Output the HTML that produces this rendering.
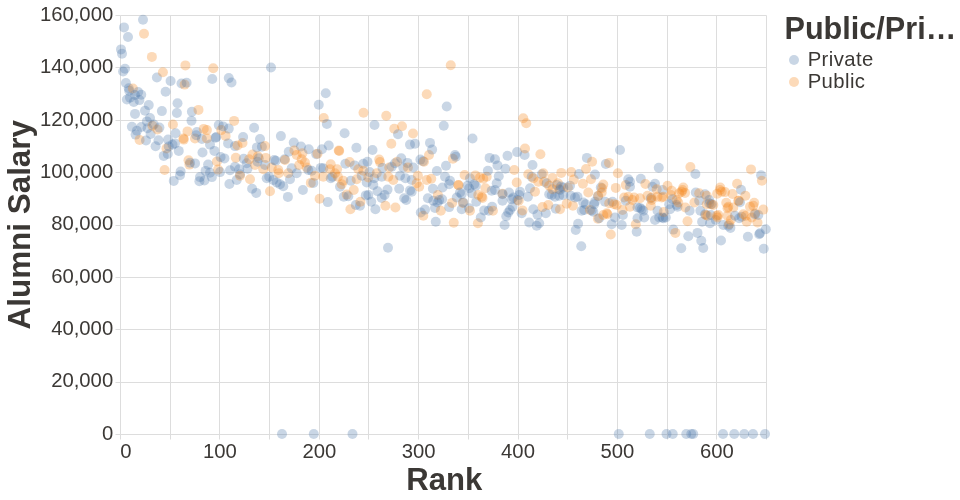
<!DOCTYPE html>
<html><head><meta charset="utf-8"><style>
html,body{margin:0;padding:0;background:#fff;}
svg{display:block;font-family:"Liberation Sans",sans-serif;will-change:transform;}
</style></head><body>
<svg width="960" height="500" viewBox="0 0 960 500">
<rect width="960" height="500" fill="#fff"/>
<g stroke="#ddd" stroke-width="1"><line x1="120.5" y1="15.5" x2="120.5" y2="434.5"/><line x1="170.5" y1="15.5" x2="170.5" y2="434.5"/><line x1="219.5" y1="15.5" x2="219.5" y2="434.5"/><line x1="269.5" y1="15.5" x2="269.5" y2="434.5"/><line x1="319.5" y1="15.5" x2="319.5" y2="434.5"/><line x1="368.5" y1="15.5" x2="368.5" y2="434.5"/><line x1="418.5" y1="15.5" x2="418.5" y2="434.5"/><line x1="468.5" y1="15.5" x2="468.5" y2="434.5"/><line x1="518.5" y1="15.5" x2="518.5" y2="434.5"/><line x1="567.5" y1="15.5" x2="567.5" y2="434.5"/><line x1="617.5" y1="15.5" x2="617.5" y2="434.5"/><line x1="667.5" y1="15.5" x2="667.5" y2="434.5"/><line x1="716.5" y1="15.5" x2="716.5" y2="434.5"/><line x1="766.5" y1="15.5" x2="766.5" y2="434.5"/><line x1="120.5" y1="434.5" x2="766.5" y2="434.5"/><line x1="120.5" y1="382.5" x2="766.5" y2="382.5"/><line x1="120.5" y1="329.5" x2="766.5" y2="329.5"/><line x1="120.5" y1="277.5" x2="766.5" y2="277.5"/><line x1="120.5" y1="225.5" x2="766.5" y2="225.5"/><line x1="120.5" y1="172.5" x2="766.5" y2="172.5"/><line x1="120.5" y1="120.5" x2="766.5" y2="120.5"/><line x1="120.5" y1="67.5" x2="766.5" y2="67.5"/><line x1="120.5" y1="15.5" x2="766.5" y2="15.5"/></g>
<g stroke="#ddd" stroke-width="1"><line x1="120.5" y1="434.5" x2="120.5" y2="439.5"/><line x1="170.5" y1="434.5" x2="170.5" y2="439.5"/><line x1="219.5" y1="434.5" x2="219.5" y2="439.5"/><line x1="269.5" y1="434.5" x2="269.5" y2="439.5"/><line x1="319.5" y1="434.5" x2="319.5" y2="439.5"/><line x1="368.5" y1="434.5" x2="368.5" y2="439.5"/><line x1="418.5" y1="434.5" x2="418.5" y2="439.5"/><line x1="468.5" y1="434.5" x2="468.5" y2="439.5"/><line x1="518.5" y1="434.5" x2="518.5" y2="439.5"/><line x1="567.5" y1="434.5" x2="567.5" y2="439.5"/><line x1="617.5" y1="434.5" x2="617.5" y2="439.5"/><line x1="667.5" y1="434.5" x2="667.5" y2="439.5"/><line x1="716.5" y1="434.5" x2="716.5" y2="439.5"/><line x1="766.5" y1="434.5" x2="766.5" y2="439.5"/><line x1="115.5" y1="434.5" x2="120.5" y2="434.5"/><line x1="115.5" y1="382.5" x2="120.5" y2="382.5"/><line x1="115.5" y1="329.5" x2="120.5" y2="329.5"/><line x1="115.5" y1="277.5" x2="120.5" y2="277.5"/><line x1="115.5" y1="225.5" x2="120.5" y2="225.5"/><line x1="115.5" y1="172.5" x2="120.5" y2="172.5"/><line x1="115.5" y1="120.5" x2="120.5" y2="120.5"/><line x1="115.5" y1="67.5" x2="120.5" y2="67.5"/><line x1="115.5" y1="15.5" x2="120.5" y2="15.5"/></g>
<g fill="#3b3835" font-size="20.3px"><text x="120.2" y="458" text-anchor="start">0</text><text x="219.9" y="458" text-anchor="middle">100</text><text x="319.3" y="458" text-anchor="middle">200</text><text x="418.7" y="458" text-anchor="middle">300</text><text x="518.0" y="458" text-anchor="middle">400</text><text x="617.4" y="458" text-anchor="middle">500</text><text x="716.8" y="458" text-anchor="middle">600</text><text x="113.2" y="439.8" text-anchor="end">0</text><text x="113.2" y="387.4" text-anchor="end">20,000</text><text x="113.2" y="335.1" text-anchor="end">40,000</text><text x="113.2" y="282.7" text-anchor="end">60,000</text><text x="113.2" y="230.3" text-anchor="end">80,000</text><text x="113.2" y="177.9" text-anchor="end">100,000</text><text x="113.2" y="125.5" text-anchor="end">120,000</text><text x="113.2" y="73.2" text-anchor="end">140,000</text><text x="113.2" y="20.8" text-anchor="end">160,000</text></g>
<text x="444.2" y="489.8" text-anchor="middle" font-size="31px" font-weight="bold" fill="#3b3835" textLength="76" lengthAdjust="spacingAndGlyphs">Rank</text>
<text transform="translate(30.3,224.7) rotate(-90)" text-anchor="middle" font-size="31px" font-weight="bold" fill="#3b3835" textLength="209.5" lengthAdjust="spacingAndGlyphs">Alumni Salary</text>
<text x="784.5" y="38.9" font-size="31px" font-weight="bold" fill="#3b3835" textLength="171.8" lengthAdjust="spacingAndGlyphs">Public/Pri…</text>
<circle cx="794" cy="60" r="5" fill="#4c78a8" fill-opacity="0.3"/><circle cx="794" cy="82" r="5" fill="#f58518" fill-opacity="0.3"/>
<g fill="#3b3835" font-size="20.3px" letter-spacing="0.4"><text x="807.7" y="66">Private</text><text x="807.7" y="87.6">Public</text></g>
<g fill-opacity="0.3"><circle cx="121" cy="49.4" r="5" fill="#4c78a8"/><circle cx="122" cy="53.75" r="5" fill="#4c78a8"/><circle cx="123.1" cy="71.5" r="5" fill="#4c78a8"/><circle cx="124" cy="27.4" r="5" fill="#4c78a8"/><circle cx="125" cy="68.75" r="5" fill="#4c78a8"/><circle cx="125.9" cy="83" r="5" fill="#4c78a8"/><circle cx="126.9" cy="99.5" r="5" fill="#4c78a8"/><circle cx="128" cy="37" r="5" fill="#4c78a8"/><circle cx="128.75" cy="88.25" r="5" fill="#4c78a8"/><circle cx="129.2" cy="90.8" r="5" fill="#4c78a8"/><circle cx="130" cy="97.6" r="5" fill="#4c78a8"/><circle cx="131.9" cy="126.75" r="5" fill="#4c78a8"/><circle cx="132.9" cy="88.5" r="5" fill="#f58518"/><circle cx="133.75" cy="102" r="5" fill="#4c78a8"/><circle cx="135" cy="113.9" r="5" fill="#4c78a8"/><circle cx="135" cy="95" r="5" fill="#4c78a8"/><circle cx="135.6" cy="134.6" r="5" fill="#4c78a8"/><circle cx="136.9" cy="130.75" r="5" fill="#4c78a8"/><circle cx="138.1" cy="92" r="5" fill="#4c78a8"/><circle cx="139.4" cy="100.1" r="5" fill="#4c78a8"/><circle cx="139.6" cy="139.9" r="5" fill="#f58518"/><circle cx="141.25" cy="94.75" r="5" fill="#4c78a8"/><circle cx="141.25" cy="127" r="5" fill="#4c78a8"/><circle cx="143" cy="19.7" r="5" fill="#4c78a8"/><circle cx="144" cy="33.8" r="5" fill="#f58518"/><circle cx="145" cy="110.75" r="5" fill="#4c78a8"/><circle cx="146" cy="140.5" r="5" fill="#4c78a8"/><circle cx="146.9" cy="121.4" r="5" fill="#4c78a8"/><circle cx="147.5" cy="128.25" r="5" fill="#4c78a8"/><circle cx="148.75" cy="105.1" r="5" fill="#4c78a8"/><circle cx="150" cy="118" r="5" fill="#4c78a8"/><circle cx="150.6" cy="134" r="5" fill="#4c78a8"/><circle cx="151.9" cy="56.9" r="5" fill="#f58518"/><circle cx="152.5" cy="125.75" r="5" fill="#f58518"/><circle cx="153.75" cy="124.5" r="5" fill="#4c78a8"/><circle cx="155.6" cy="146.25" r="5" fill="#4c78a8"/><circle cx="156.9" cy="77.5" r="5" fill="#4c78a8"/><circle cx="157.5" cy="129.5" r="5" fill="#f58518"/><circle cx="158.5" cy="140.25" r="5" fill="#4c78a8"/><circle cx="159.4" cy="127.6" r="5" fill="#4c78a8"/><circle cx="161.9" cy="111.1" r="5" fill="#4c78a8"/><circle cx="162.9" cy="72.25" r="5" fill="#f58518"/><circle cx="163.75" cy="155.9" r="5" fill="#4c78a8"/><circle cx="164.6" cy="170" r="5" fill="#f58518"/><circle cx="165.6" cy="91.75" r="5" fill="#4c78a8"/><circle cx="166.5" cy="148.4" r="5" fill="#f58518"/><circle cx="167.75" cy="154" r="5" fill="#4c78a8"/><circle cx="168.1" cy="139.6" r="5" fill="#4c78a8"/><circle cx="168.75" cy="146.5" r="5" fill="#4c78a8"/><circle cx="170.6" cy="81" r="5" fill="#4c78a8"/><circle cx="172.5" cy="144.6" r="5" fill="#4c78a8"/><circle cx="172.9" cy="124.5" r="5" fill="#f58518"/><circle cx="173.75" cy="180.9" r="5" fill="#4c78a8"/><circle cx="175" cy="143.4" r="5" fill="#4c78a8"/><circle cx="175.6" cy="133.25" r="5" fill="#4c78a8"/><circle cx="176.9" cy="113" r="5" fill="#4c78a8"/><circle cx="177.5" cy="103.25" r="5" fill="#4c78a8"/><circle cx="178.75" cy="150.9" r="5" fill="#4c78a8"/><circle cx="180" cy="175.25" r="5" fill="#4c78a8"/><circle cx="180.6" cy="171.5" r="5" fill="#4c78a8"/><circle cx="181.5" cy="83.5" r="5" fill="#4c78a8"/><circle cx="183.4" cy="138.4" r="5" fill="#f58518"/><circle cx="183.75" cy="139.6" r="5" fill="#f58518"/><circle cx="184.6" cy="84.6" r="5" fill="#f58518"/><circle cx="185.4" cy="65.4" r="5" fill="#f58518"/><circle cx="186.6" cy="82.75" r="5" fill="#4c78a8"/><circle cx="187.5" cy="131.4" r="5" fill="#f58518"/><circle cx="188.5" cy="160.25" r="5" fill="#f58518"/><circle cx="189.4" cy="164.6" r="5" fill="#f58518"/><circle cx="190" cy="162.75" r="5" fill="#4c78a8"/><circle cx="191.5" cy="120.75" r="5" fill="#4c78a8"/><circle cx="191.9" cy="111.75" r="5" fill="#4c78a8"/><circle cx="195" cy="138.4" r="5" fill="#f58518"/><circle cx="195" cy="163.4" r="5" fill="#4c78a8"/><circle cx="196.25" cy="135.25" r="5" fill="#4c78a8"/><circle cx="196.9" cy="132" r="5" fill="#4c78a8"/><circle cx="198.5" cy="109.9" r="5" fill="#f58518"/><circle cx="199.4" cy="181.25" r="5" fill="#4c78a8"/><circle cx="200" cy="177.1" r="5" fill="#4c78a8"/><circle cx="201.9" cy="139" r="5" fill="#4c78a8"/><circle cx="202.5" cy="152.5" r="5" fill="#4c78a8"/><circle cx="203.75" cy="128.9" r="5" fill="#f58518"/><circle cx="204.4" cy="180.5" r="5" fill="#4c78a8"/><circle cx="205.6" cy="170.9" r="5" fill="#4c78a8"/><circle cx="206.9" cy="130.1" r="5" fill="#f58518"/><circle cx="206.9" cy="138.4" r="5" fill="#f58518"/><circle cx="208.1" cy="164.6" r="5" fill="#4c78a8"/><circle cx="210" cy="144.6" r="5" fill="#4c78a8"/><circle cx="210" cy="172.75" r="5" fill="#4c78a8"/><circle cx="211.9" cy="177.1" r="5" fill="#4c78a8"/><circle cx="212.25" cy="79" r="5" fill="#4c78a8"/><circle cx="213.25" cy="68.25" r="5" fill="#f58518"/><circle cx="214.4" cy="150.9" r="5" fill="#4c78a8"/><circle cx="215.6" cy="137.75" r="5" fill="#4c78a8"/><circle cx="216.25" cy="137" r="5" fill="#4c78a8"/><circle cx="216.9" cy="161.5" r="5" fill="#f58518"/><circle cx="218.1" cy="169.6" r="5" fill="#f58518"/><circle cx="218.75" cy="125.1" r="5" fill="#4c78a8"/><circle cx="220" cy="172.1" r="5" fill="#4c78a8"/><circle cx="220.6" cy="157.1" r="5" fill="#4c78a8"/><circle cx="221.25" cy="130.1" r="5" fill="#f58518"/><circle cx="223.1" cy="126.4" r="5" fill="#4c78a8"/><circle cx="224.4" cy="158.4" r="5" fill="#4c78a8"/><circle cx="225.6" cy="135.9" r="5" fill="#f58518"/><circle cx="228.1" cy="143.4" r="5" fill="#4c78a8"/><circle cx="228.75" cy="78.1" r="5" fill="#4c78a8"/><circle cx="228.75" cy="128.6" r="5" fill="#4c78a8"/><circle cx="229.4" cy="184" r="5" fill="#4c78a8"/><circle cx="230" cy="170.25" r="5" fill="#4c78a8"/><circle cx="231.5" cy="82.5" r="5" fill="#4c78a8"/><circle cx="234.1" cy="120.9" r="5" fill="#f58518"/><circle cx="235" cy="146.1" r="5" fill="#4c78a8"/><circle cx="235" cy="166.7" r="5" fill="#4c78a8"/><circle cx="235.8" cy="157.7" r="5" fill="#f58518"/><circle cx="236.7" cy="180" r="5" fill="#4c78a8"/><circle cx="237.5" cy="145.5" r="5" fill="#f58518"/><circle cx="239.2" cy="169.2" r="5" fill="#4c78a8"/><circle cx="240" cy="174.2" r="5" fill="#4c78a8"/><circle cx="240" cy="175.8" r="5" fill="#f58518"/><circle cx="242.5" cy="143" r="5" fill="#f58518"/><circle cx="243.1" cy="137.1" r="5" fill="#4c78a8"/><circle cx="243.75" cy="158.75" r="5" fill="#4c78a8"/><circle cx="246.7" cy="163.3" r="5" fill="#4c78a8"/><circle cx="247.5" cy="168.75" r="5" fill="#4c78a8"/><circle cx="249.2" cy="159.3" r="5" fill="#f58518"/><circle cx="250" cy="179.2" r="5" fill="#f58518"/><circle cx="252.1" cy="188.75" r="5" fill="#4c78a8"/><circle cx="252.5" cy="154.6" r="5" fill="#f58518"/><circle cx="254.1" cy="127.75" r="5" fill="#4c78a8"/><circle cx="255" cy="165" r="5" fill="#f58518"/><circle cx="256.25" cy="192.9" r="5" fill="#4c78a8"/><circle cx="256.9" cy="147.4" r="5" fill="#4c78a8"/><circle cx="257.5" cy="161.7" r="5" fill="#4c78a8"/><circle cx="257.9" cy="156.25" r="5" fill="#f58518"/><circle cx="258.75" cy="158.3" r="5" fill="#4c78a8"/><circle cx="260" cy="139" r="5" fill="#4c78a8"/><circle cx="261.9" cy="146.75" r="5" fill="#4c78a8"/><circle cx="263.3" cy="169.2" r="5" fill="#f58518"/><circle cx="265" cy="146.1" r="5" fill="#f58518"/><circle cx="265" cy="165" r="5" fill="#4c78a8"/><circle cx="265.8" cy="157.9" r="5" fill="#f58518"/><circle cx="266.7" cy="178.3" r="5" fill="#4c78a8"/><circle cx="269.2" cy="176.7" r="5" fill="#4c78a8"/><circle cx="270" cy="191.25" r="5" fill="#f58518"/><circle cx="271" cy="67.5" r="5" fill="#4c78a8"/><circle cx="271.7" cy="167.5" r="5" fill="#f58518"/><circle cx="273.3" cy="180" r="5" fill="#4c78a8"/><circle cx="274.2" cy="160" r="5" fill="#4c78a8"/><circle cx="275.8" cy="160.8" r="5" fill="#4c78a8"/><circle cx="276.7" cy="182.5" r="5" fill="#4c78a8"/><circle cx="278.3" cy="170" r="5" fill="#f58518"/><circle cx="278.75" cy="173.3" r="5" fill="#f58518"/><circle cx="280" cy="184.2" r="5" fill="#4c78a8"/><circle cx="280.9" cy="136.1" r="5" fill="#4c78a8"/><circle cx="282" cy="434" r="5" fill="#4c78a8"/><circle cx="283.3" cy="186.25" r="5" fill="#4c78a8"/><circle cx="284.6" cy="159.2" r="5" fill="#4c78a8"/><circle cx="285" cy="160" r="5" fill="#f58518"/><circle cx="287.9" cy="196.9" r="5" fill="#4c78a8"/><circle cx="288.3" cy="173.3" r="5" fill="#f58518"/><circle cx="288.75" cy="151.75" r="5" fill="#4c78a8"/><circle cx="290" cy="179.2" r="5" fill="#4c78a8"/><circle cx="291.7" cy="168.3" r="5" fill="#4c78a8"/><circle cx="293.75" cy="142.6" r="5" fill="#4c78a8"/><circle cx="294.4" cy="150.5" r="5" fill="#f58518"/><circle cx="296.7" cy="155" r="5" fill="#f58518"/><circle cx="296.7" cy="173.3" r="5" fill="#4c78a8"/><circle cx="299.2" cy="165" r="5" fill="#f58518"/><circle cx="301" cy="146.5" r="5" fill="#4c78a8"/><circle cx="301.7" cy="159.2" r="5" fill="#f58518"/><circle cx="302.5" cy="153.3" r="5" fill="#f58518"/><circle cx="302.9" cy="190" r="5" fill="#4c78a8"/><circle cx="305" cy="162.5" r="5" fill="#f58518"/><circle cx="306.7" cy="167.5" r="5" fill="#f58518"/><circle cx="308.3" cy="170" r="5" fill="#4c78a8"/><circle cx="308.75" cy="149.25" r="5" fill="#4c78a8"/><circle cx="310.8" cy="182.9" r="5" fill="#f58518"/><circle cx="311.7" cy="170.8" r="5" fill="#4c78a8"/><circle cx="313.3" cy="182.9" r="5" fill="#4c78a8"/><circle cx="313.75" cy="434" r="5" fill="#4c78a8"/><circle cx="315" cy="175.8" r="5" fill="#f58518"/><circle cx="316.25" cy="154.2" r="5" fill="#4c78a8"/><circle cx="317.5" cy="153.75" r="5" fill="#f58518"/><circle cx="318.75" cy="104.7" r="5" fill="#4c78a8"/><circle cx="319.6" cy="198.75" r="5" fill="#f58518"/><circle cx="320.8" cy="167.9" r="5" fill="#4c78a8"/><circle cx="321.9" cy="149.25" r="5" fill="#4c78a8"/><circle cx="323.3" cy="168.3" r="5" fill="#4c78a8"/><circle cx="323.3" cy="176.7" r="5" fill="#f58518"/><circle cx="323.75" cy="118" r="5" fill="#f58518"/><circle cx="325.75" cy="93.2" r="5" fill="#4c78a8"/><circle cx="326.9" cy="123.9" r="5" fill="#4c78a8"/><circle cx="327.75" cy="202.1" r="5" fill="#4c78a8"/><circle cx="328.75" cy="145.5" r="5" fill="#4c78a8"/><circle cx="330" cy="169.2" r="5" fill="#f58518"/><circle cx="330.7" cy="164.2" r="5" fill="#f58518"/><circle cx="330.8" cy="178.3" r="5" fill="#4c78a8"/><circle cx="332.5" cy="176.7" r="5" fill="#4c78a8"/><circle cx="335" cy="173.3" r="5" fill="#f58518"/><circle cx="337.1" cy="169.2" r="5" fill="#f58518"/><circle cx="337.9" cy="176.7" r="5" fill="#f58518"/><circle cx="338.75" cy="150.5" r="5" fill="#f58518"/><circle cx="339.2" cy="151" r="5" fill="#f58518"/><circle cx="340" cy="186.7" r="5" fill="#4c78a8"/><circle cx="341.7" cy="184.2" r="5" fill="#f58518"/><circle cx="343.3" cy="180.8" r="5" fill="#f58518"/><circle cx="343.75" cy="196.7" r="5" fill="#4c78a8"/><circle cx="344.6" cy="133.25" r="5" fill="#4c78a8"/><circle cx="345.4" cy="163.75" r="5" fill="#4c78a8"/><circle cx="346.7" cy="194.6" r="5" fill="#f58518"/><circle cx="348.3" cy="196.25" r="5" fill="#4c78a8"/><circle cx="349.6" cy="162.1" r="5" fill="#f58518"/><circle cx="350.4" cy="209.2" r="5" fill="#f58518"/><circle cx="350.8" cy="180.8" r="5" fill="#4c78a8"/><circle cx="352.5" cy="434" r="5" fill="#4c78a8"/><circle cx="353.75" cy="190" r="5" fill="#f58518"/><circle cx="354.6" cy="165.4" r="5" fill="#4c78a8"/><circle cx="355.8" cy="205" r="5" fill="#4c78a8"/><circle cx="356.4" cy="147.7" r="5" fill="#4c78a8"/><circle cx="356.7" cy="179.2" r="5" fill="#f58518"/><circle cx="358.3" cy="169.2" r="5" fill="#f58518"/><circle cx="360" cy="205.8" r="5" fill="#4c78a8"/><circle cx="360.4" cy="201.7" r="5" fill="#f58518"/><circle cx="361.7" cy="175.8" r="5" fill="#4c78a8"/><circle cx="363.3" cy="163.75" r="5" fill="#4c78a8"/><circle cx="363.3" cy="170.8" r="5" fill="#f58518"/><circle cx="363.5" cy="112.75" r="5" fill="#f58518"/><circle cx="365.8" cy="195.4" r="5" fill="#4c78a8"/><circle cx="366.7" cy="182.5" r="5" fill="#4c78a8"/><circle cx="367.5" cy="161.8" r="5" fill="#4c78a8"/><circle cx="368.3" cy="177.5" r="5" fill="#f58518"/><circle cx="368.3" cy="195" r="5" fill="#4c78a8"/><circle cx="369.6" cy="172.1" r="5" fill="#4c78a8"/><circle cx="371.25" cy="201.7" r="5" fill="#4c78a8"/><circle cx="372.5" cy="150" r="5" fill="#4c78a8"/><circle cx="373.3" cy="185" r="5" fill="#4c78a8"/><circle cx="374.2" cy="178.3" r="5" fill="#4c78a8"/><circle cx="374.5" cy="125" r="5" fill="#4c78a8"/><circle cx="375.4" cy="209.2" r="5" fill="#4c78a8"/><circle cx="376.7" cy="173.3" r="5" fill="#f58518"/><circle cx="377.5" cy="191.25" r="5" fill="#4c78a8"/><circle cx="379.2" cy="159.6" r="5" fill="#f58518"/><circle cx="380" cy="162.1" r="5" fill="#f58518"/><circle cx="381.7" cy="176.7" r="5" fill="#4c78a8"/><circle cx="381.7" cy="197.9" r="5" fill="#4c78a8"/><circle cx="382.5" cy="167.9" r="5" fill="#4c78a8"/><circle cx="384.6" cy="195" r="5" fill="#4c78a8"/><circle cx="385.4" cy="205.8" r="5" fill="#f58518"/><circle cx="386.25" cy="115.75" r="5" fill="#f58518"/><circle cx="387.5" cy="189.6" r="5" fill="#4c78a8"/><circle cx="388" cy="247.75" r="5" fill="#4c78a8"/><circle cx="388.3" cy="176.7" r="5" fill="#f58518"/><circle cx="389.2" cy="167.5" r="5" fill="#f58518"/><circle cx="391.3" cy="143.8" r="5" fill="#f58518"/><circle cx="391.7" cy="166.7" r="5" fill="#4c78a8"/><circle cx="393.3" cy="180" r="5" fill="#f58518"/><circle cx="394.25" cy="128.75" r="5" fill="#f58518"/><circle cx="395" cy="163.3" r="5" fill="#4c78a8"/><circle cx="395.4" cy="207.5" r="5" fill="#f58518"/><circle cx="397.1" cy="161.8" r="5" fill="#f58518"/><circle cx="398" cy="134.25" r="5" fill="#4c78a8"/><circle cx="399.2" cy="188.75" r="5" fill="#4c78a8"/><circle cx="400" cy="175.8" r="5" fill="#4c78a8"/><circle cx="401.25" cy="158.3" r="5" fill="#4c78a8"/><circle cx="402" cy="126.25" r="5" fill="#f58518"/><circle cx="403.3" cy="167.5" r="5" fill="#4c78a8"/><circle cx="404.2" cy="198.3" r="5" fill="#4c78a8"/><circle cx="405.4" cy="178.3" r="5" fill="#4c78a8"/><circle cx="406.25" cy="200" r="5" fill="#4c78a8"/><circle cx="407.5" cy="162.9" r="5" fill="#4c78a8"/><circle cx="407.9" cy="167.5" r="5" fill="#f58518"/><circle cx="410" cy="144.6" r="5" fill="#4c78a8"/><circle cx="410" cy="190.4" r="5" fill="#4c78a8"/><circle cx="411.7" cy="180" r="5" fill="#4c78a8"/><circle cx="411.7" cy="191.7" r="5" fill="#4c78a8"/><circle cx="413" cy="133.5" r="5" fill="#f58518"/><circle cx="413.3" cy="167.5" r="5" fill="#4c78a8"/><circle cx="415" cy="143.75" r="5" fill="#4c78a8"/><circle cx="416.7" cy="183.3" r="5" fill="#f58518"/><circle cx="417.9" cy="175.8" r="5" fill="#f58518"/><circle cx="419.2" cy="186.7" r="5" fill="#f58518"/><circle cx="420.4" cy="159.6" r="5" fill="#4c78a8"/><circle cx="420.8" cy="212.5" r="5" fill="#4c78a8"/><circle cx="422.9" cy="161.25" r="5" fill="#4c78a8"/><circle cx="423.3" cy="215.8" r="5" fill="#f58518"/><circle cx="424" cy="161.8" r="5" fill="#f58518"/><circle cx="425" cy="209.6" r="5" fill="#4c78a8"/><circle cx="426.7" cy="180" r="5" fill="#f58518"/><circle cx="426.75" cy="94.25" r="5" fill="#f58518"/><circle cx="427.9" cy="198.3" r="5" fill="#4c78a8"/><circle cx="429" cy="155" r="5" fill="#f58518"/><circle cx="430" cy="142.9" r="5" fill="#4c78a8"/><circle cx="431.25" cy="178.75" r="5" fill="#f58518"/><circle cx="432.1" cy="149.6" r="5" fill="#4c78a8"/><circle cx="432.9" cy="188.75" r="5" fill="#4c78a8"/><circle cx="433.3" cy="200.8" r="5" fill="#4c78a8"/><circle cx="435" cy="207.9" r="5" fill="#4c78a8"/><circle cx="435.75" cy="221.75" r="5" fill="#4c78a8"/><circle cx="436.9" cy="171" r="5" fill="#4c78a8"/><circle cx="437.5" cy="202.5" r="5" fill="#4c78a8"/><circle cx="437.9" cy="195" r="5" fill="#f58518"/><circle cx="439.2" cy="200" r="5" fill="#4c78a8"/><circle cx="440.8" cy="210.8" r="5" fill="#f58518"/><circle cx="442.1" cy="199.2" r="5" fill="#4c78a8"/><circle cx="442.5" cy="187.5" r="5" fill="#4c78a8"/><circle cx="443.75" cy="125.75" r="5" fill="#4c78a8"/><circle cx="445" cy="176.7" r="5" fill="#4c78a8"/><circle cx="446" cy="165.8" r="5" fill="#4c78a8"/><circle cx="446.75" cy="106.5" r="5" fill="#4c78a8"/><circle cx="449.2" cy="184.2" r="5" fill="#4c78a8"/><circle cx="449.2" cy="207.1" r="5" fill="#4c78a8"/><circle cx="450" cy="180.8" r="5" fill="#4c78a8"/><circle cx="450.75" cy="65.25" r="5" fill="#f58518"/><circle cx="452.1" cy="202.9" r="5" fill="#f58518"/><circle cx="452.9" cy="158.75" r="5" fill="#f58518"/><circle cx="453.75" cy="222.75" r="5" fill="#f58518"/><circle cx="455" cy="155" r="5" fill="#4c78a8"/><circle cx="455.8" cy="156.7" r="5" fill="#4c78a8"/><circle cx="456.7" cy="197.5" r="5" fill="#4c78a8"/><circle cx="458.3" cy="185" r="5" fill="#f58518"/><circle cx="458.6" cy="185.2" r="5" fill="#f58518"/><circle cx="460" cy="192.5" r="5" fill="#4c78a8"/><circle cx="461.7" cy="194.2" r="5" fill="#4c78a8"/><circle cx="461.7" cy="209.2" r="5" fill="#4c78a8"/><circle cx="462.9" cy="202.9" r="5" fill="#f58518"/><circle cx="463.3" cy="202.5" r="5" fill="#4c78a8"/><circle cx="464.6" cy="175" r="5" fill="#f58518"/><circle cx="467.5" cy="185.8" r="5" fill="#4c78a8"/><circle cx="469" cy="208.3" r="5" fill="#4c78a8"/><circle cx="469.2" cy="188.3" r="5" fill="#4c78a8"/><circle cx="470" cy="178.3" r="5" fill="#4c78a8"/><circle cx="470" cy="210.8" r="5" fill="#f58518"/><circle cx="471.7" cy="193.3" r="5" fill="#4c78a8"/><circle cx="472.5" cy="138.5" r="5" fill="#4c78a8"/><circle cx="474.2" cy="184.2" r="5" fill="#4c78a8"/><circle cx="475.4" cy="175.4" r="5" fill="#f58518"/><circle cx="475.8" cy="185.8" r="5" fill="#4c78a8"/><circle cx="476.25" cy="201.7" r="5" fill="#4c78a8"/><circle cx="477.9" cy="223.3" r="5" fill="#f58518"/><circle cx="478.3" cy="195" r="5" fill="#f58518"/><circle cx="480" cy="177.5" r="5" fill="#f58518"/><circle cx="480.8" cy="217.5" r="5" fill="#4c78a8"/><circle cx="481.7" cy="196.7" r="5" fill="#f58518"/><circle cx="482.5" cy="197.9" r="5" fill="#f58518"/><circle cx="483.3" cy="178.75" r="5" fill="#f58518"/><circle cx="484.2" cy="210.4" r="5" fill="#4c78a8"/><circle cx="485.4" cy="188.3" r="5" fill="#f58518"/><circle cx="486.7" cy="176.7" r="5" fill="#f58518"/><circle cx="487.9" cy="170.8" r="5" fill="#4c78a8"/><circle cx="488.75" cy="210.8" r="5" fill="#4c78a8"/><circle cx="489.6" cy="157.9" r="5" fill="#4c78a8"/><circle cx="491.7" cy="190.8" r="5" fill="#4c78a8"/><circle cx="492.1" cy="206.7" r="5" fill="#4c78a8"/><circle cx="492.9" cy="210.8" r="5" fill="#f58518"/><circle cx="495" cy="159.2" r="5" fill="#4c78a8"/><circle cx="495" cy="190" r="5" fill="#4c78a8"/><circle cx="496.7" cy="183.3" r="5" fill="#4c78a8"/><circle cx="497.5" cy="165.4" r="5" fill="#4c78a8"/><circle cx="498.75" cy="176.25" r="5" fill="#4c78a8"/><circle cx="502.5" cy="193.75" r="5" fill="#f58518"/><circle cx="502.5" cy="194.2" r="5" fill="#4c78a8"/><circle cx="502.5" cy="200.8" r="5" fill="#4c78a8"/><circle cx="504.6" cy="225" r="5" fill="#4c78a8"/><circle cx="505.4" cy="168.75" r="5" fill="#4c78a8"/><circle cx="506.25" cy="216.25" r="5" fill="#4c78a8"/><circle cx="507.5" cy="155.8" r="5" fill="#4c78a8"/><circle cx="508.3" cy="212.5" r="5" fill="#4c78a8"/><circle cx="509" cy="192.5" r="5" fill="#4c78a8"/><circle cx="510" cy="210" r="5" fill="#4c78a8"/><circle cx="511.7" cy="199.2" r="5" fill="#4c78a8"/><circle cx="512.5" cy="206.7" r="5" fill="#4c78a8"/><circle cx="513.3" cy="197.5" r="5" fill="#4c78a8"/><circle cx="514.3" cy="170" r="5" fill="#f58518"/><circle cx="516.7" cy="182.5" r="5" fill="#f58518"/><circle cx="517.1" cy="152.1" r="5" fill="#4c78a8"/><circle cx="517.5" cy="200" r="5" fill="#4c78a8"/><circle cx="518.75" cy="200.8" r="5" fill="#f58518"/><circle cx="519.2" cy="195" r="5" fill="#4c78a8"/><circle cx="520" cy="191.7" r="5" fill="#4c78a8"/><circle cx="521.7" cy="213.3" r="5" fill="#4c78a8"/><circle cx="522.5" cy="210.4" r="5" fill="#f58518"/><circle cx="523.25" cy="118.25" r="5" fill="#f58518"/><circle cx="524.6" cy="155" r="5" fill="#4c78a8"/><circle cx="525" cy="148.5" r="5" fill="#f58518"/><circle cx="526.25" cy="123.25" r="5" fill="#f58518"/><circle cx="527.9" cy="196.7" r="5" fill="#4c78a8"/><circle cx="528.3" cy="174.2" r="5" fill="#f58518"/><circle cx="529.2" cy="222.5" r="5" fill="#4c78a8"/><circle cx="530" cy="188.3" r="5" fill="#4c78a8"/><circle cx="531.7" cy="176.7" r="5" fill="#4c78a8"/><circle cx="532.5" cy="165" r="5" fill="#4c78a8"/><circle cx="533.3" cy="178.3" r="5" fill="#f58518"/><circle cx="533.3" cy="209.2" r="5" fill="#4c78a8"/><circle cx="535" cy="191.7" r="5" fill="#f58518"/><circle cx="536.7" cy="225.8" r="5" fill="#4c78a8"/><circle cx="537.5" cy="214.6" r="5" fill="#4c78a8"/><circle cx="538.3" cy="181.7" r="5" fill="#f58518"/><circle cx="539.2" cy="223.3" r="5" fill="#4c78a8"/><circle cx="540.4" cy="154.2" r="5" fill="#f58518"/><circle cx="541.7" cy="174.2" r="5" fill="#4c78a8"/><circle cx="542.5" cy="207.1" r="5" fill="#f58518"/><circle cx="543.3" cy="173.3" r="5" fill="#f58518"/><circle cx="544.2" cy="181.7" r="5" fill="#f58518"/><circle cx="545.8" cy="213.3" r="5" fill="#4c78a8"/><circle cx="546.7" cy="183.3" r="5" fill="#4c78a8"/><circle cx="548.3" cy="205" r="5" fill="#f58518"/><circle cx="549.2" cy="185.8" r="5" fill="#f58518"/><circle cx="549.2" cy="194.2" r="5" fill="#4c78a8"/><circle cx="551.7" cy="195" r="5" fill="#4c78a8"/><circle cx="552.5" cy="177.9" r="5" fill="#f58518"/><circle cx="552.5" cy="189.2" r="5" fill="#f58518"/><circle cx="555" cy="196.7" r="5" fill="#4c78a8"/><circle cx="555.8" cy="208.75" r="5" fill="#4c78a8"/><circle cx="556.7" cy="185" r="5" fill="#4c78a8"/><circle cx="557.9" cy="183.3" r="5" fill="#f58518"/><circle cx="559" cy="189" r="5" fill="#f58518"/><circle cx="559.2" cy="195.8" r="5" fill="#4c78a8"/><circle cx="560" cy="190" r="5" fill="#4c78a8"/><circle cx="560" cy="209.2" r="5" fill="#f58518"/><circle cx="561" cy="186.5" r="5" fill="#4c78a8"/><circle cx="561.25" cy="172.9" r="5" fill="#f58518"/><circle cx="563.3" cy="187.5" r="5" fill="#4c78a8"/><circle cx="563.3" cy="195" r="5" fill="#4c78a8"/><circle cx="566.7" cy="203.75" r="5" fill="#f58518"/><circle cx="567.9" cy="187.5" r="5" fill="#f58518"/><circle cx="570" cy="185.8" r="5" fill="#4c78a8"/><circle cx="570.8" cy="195.8" r="5" fill="#4c78a8"/><circle cx="571.25" cy="172.1" r="5" fill="#f58518"/><circle cx="572.9" cy="205.8" r="5" fill="#f58518"/><circle cx="573.75" cy="179.6" r="5" fill="#f58518"/><circle cx="575" cy="197.5" r="5" fill="#4c78a8"/><circle cx="575.75" cy="230" r="5" fill="#4c78a8"/><circle cx="577.5" cy="196.7" r="5" fill="#4c78a8"/><circle cx="578.1" cy="223.75" r="5" fill="#4c78a8"/><circle cx="579" cy="174" r="5" fill="#4c78a8"/><circle cx="581.25" cy="246.25" r="5" fill="#4c78a8"/><circle cx="581.7" cy="210.8" r="5" fill="#4c78a8"/><circle cx="582.9" cy="183.75" r="5" fill="#f58518"/><circle cx="583.3" cy="202.5" r="5" fill="#4c78a8"/><circle cx="584.2" cy="210" r="5" fill="#4c78a8"/><circle cx="585.8" cy="204.2" r="5" fill="#4c78a8"/><circle cx="586" cy="169" r="5" fill="#f58518"/><circle cx="586.9" cy="157.9" r="5" fill="#4c78a8"/><circle cx="588.3" cy="192.5" r="5" fill="#f58518"/><circle cx="590" cy="210" r="5" fill="#f58518"/><circle cx="591" cy="179.2" r="5" fill="#f58518"/><circle cx="591.7" cy="210.4" r="5" fill="#4c78a8"/><circle cx="592.1" cy="161.8" r="5" fill="#f58518"/><circle cx="593.3" cy="211.7" r="5" fill="#4c78a8"/><circle cx="594.2" cy="204.2" r="5" fill="#4c78a8"/><circle cx="595" cy="174.6" r="5" fill="#4c78a8"/><circle cx="595" cy="201.7" r="5" fill="#4c78a8"/><circle cx="597.9" cy="196.25" r="5" fill="#4c78a8"/><circle cx="597.9" cy="218.75" r="5" fill="#f58518"/><circle cx="598.3" cy="195.8" r="5" fill="#f58518"/><circle cx="599.2" cy="218.3" r="5" fill="#4c78a8"/><circle cx="600.8" cy="187.5" r="5" fill="#4c78a8"/><circle cx="601.7" cy="192.5" r="5" fill="#f58518"/><circle cx="602.1" cy="188.3" r="5" fill="#f58518"/><circle cx="603.3" cy="184.6" r="5" fill="#f58518"/><circle cx="603.3" cy="215" r="5" fill="#f58518"/><circle cx="605" cy="201.7" r="5" fill="#4c78a8"/><circle cx="605.8" cy="164" r="5" fill="#4c78a8"/><circle cx="606.7" cy="213.3" r="5" fill="#f58518"/><circle cx="607.5" cy="214.2" r="5" fill="#f58518"/><circle cx="609" cy="162.9" r="5" fill="#f58518"/><circle cx="609.2" cy="203.3" r="5" fill="#f58518"/><circle cx="610.75" cy="234.5" r="5" fill="#f58518"/><circle cx="611.7" cy="224.2" r="5" fill="#4c78a8"/><circle cx="612.5" cy="201.7" r="5" fill="#4c78a8"/><circle cx="614.2" cy="204.2" r="5" fill="#f58518"/><circle cx="615" cy="217.5" r="5" fill="#4c78a8"/><circle cx="615.8" cy="187.9" r="5" fill="#f58518"/><circle cx="616.7" cy="205" r="5" fill="#f58518"/><circle cx="617.9" cy="173.3" r="5" fill="#f58518"/><circle cx="618.75" cy="434" r="5" fill="#4c78a8"/><circle cx="620" cy="150" r="5" fill="#4c78a8"/><circle cx="621.7" cy="225" r="5" fill="#4c78a8"/><circle cx="622.5" cy="210" r="5" fill="#f58518"/><circle cx="622.9" cy="215" r="5" fill="#4c78a8"/><circle cx="624.2" cy="197.5" r="5" fill="#f58518"/><circle cx="625.8" cy="185" r="5" fill="#f58518"/><circle cx="625.8" cy="200.8" r="5" fill="#4c78a8"/><circle cx="628.3" cy="179.2" r="5" fill="#4c78a8"/><circle cx="628.3" cy="196.7" r="5" fill="#f58518"/><circle cx="630" cy="181.7" r="5" fill="#4c78a8"/><circle cx="630" cy="186.7" r="5" fill="#4c78a8"/><circle cx="630" cy="206.7" r="5" fill="#f58518"/><circle cx="632.5" cy="200" r="5" fill="#f58518"/><circle cx="634.2" cy="197.5" r="5" fill="#f58518"/><circle cx="635.8" cy="224.2" r="5" fill="#f58518"/><circle cx="636.7" cy="231.7" r="5" fill="#4c78a8"/><circle cx="637.5" cy="207.5" r="5" fill="#4c78a8"/><circle cx="637.5" cy="218.3" r="5" fill="#4c78a8"/><circle cx="640" cy="198.3" r="5" fill="#f58518"/><circle cx="640" cy="208" r="5" fill="#4c78a8"/><circle cx="640.8" cy="178.75" r="5" fill="#4c78a8"/><circle cx="641.7" cy="209.2" r="5" fill="#4c78a8"/><circle cx="643.3" cy="210.8" r="5" fill="#4c78a8"/><circle cx="644.2" cy="217.5" r="5" fill="#4c78a8"/><circle cx="645.4" cy="184" r="5" fill="#f58518"/><circle cx="647.5" cy="195.8" r="5" fill="#f58518"/><circle cx="649.75" cy="434" r="5" fill="#4c78a8"/><circle cx="650.8" cy="198.3" r="5" fill="#4c78a8"/><circle cx="650.8" cy="205.8" r="5" fill="#f58518"/><circle cx="651.7" cy="197.5" r="5" fill="#f58518"/><circle cx="651.7" cy="200" r="5" fill="#f58518"/><circle cx="652.5" cy="186.7" r="5" fill="#4c78a8"/><circle cx="655" cy="183.75" r="5" fill="#4c78a8"/><circle cx="655" cy="220" r="5" fill="#4c78a8"/><circle cx="656.7" cy="189.2" r="5" fill="#f58518"/><circle cx="657.5" cy="196.7" r="5" fill="#f58518"/><circle cx="657.5" cy="210.8" r="5" fill="#4c78a8"/><circle cx="658.75" cy="167.75" r="5" fill="#4c78a8"/><circle cx="659.2" cy="217.5" r="5" fill="#4c78a8"/><circle cx="661.7" cy="197.5" r="5" fill="#f58518"/><circle cx="662.5" cy="190" r="5" fill="#4c78a8"/><circle cx="662.5" cy="217.5" r="5" fill="#4c78a8"/><circle cx="663.3" cy="196.7" r="5" fill="#f58518"/><circle cx="663.3" cy="218.3" r="5" fill="#4c78a8"/><circle cx="663.75" cy="212.1" r="5" fill="#f58518"/><circle cx="665.8" cy="217.5" r="5" fill="#4c78a8"/><circle cx="666.5" cy="434" r="5" fill="#4c78a8"/><circle cx="667.5" cy="185.8" r="5" fill="#f58518"/><circle cx="669.2" cy="204.2" r="5" fill="#4c78a8"/><circle cx="670" cy="209.2" r="5" fill="#4c78a8"/><circle cx="670.8" cy="195" r="5" fill="#f58518"/><circle cx="671.7" cy="190.8" r="5" fill="#f58518"/><circle cx="672.5" cy="199.2" r="5" fill="#4c78a8"/><circle cx="672.75" cy="434" r="5" fill="#4c78a8"/><circle cx="673.3" cy="229.6" r="5" fill="#4c78a8"/><circle cx="675.4" cy="232.9" r="5" fill="#f58518"/><circle cx="676.7" cy="200" r="5" fill="#f58518"/><circle cx="676.7" cy="205" r="5" fill="#4c78a8"/><circle cx="677.5" cy="206.7" r="5" fill="#4c78a8"/><circle cx="678.3" cy="202.5" r="5" fill="#f58518"/><circle cx="679.2" cy="193.3" r="5" fill="#f58518"/><circle cx="681.25" cy="248.25" r="5" fill="#4c78a8"/><circle cx="681.7" cy="191.7" r="5" fill="#f58518"/><circle cx="682.5" cy="190" r="5" fill="#f58518"/><circle cx="683.3" cy="187.5" r="5" fill="#f58518"/><circle cx="685" cy="192.9" r="5" fill="#f58518"/><circle cx="685.4" cy="207.5" r="5" fill="#f58518"/><circle cx="686.25" cy="434" r="5" fill="#4c78a8"/><circle cx="687.5" cy="221.25" r="5" fill="#f58518"/><circle cx="688.3" cy="236.25" r="5" fill="#4c78a8"/><circle cx="689.6" cy="210.8" r="5" fill="#4c78a8"/><circle cx="690.4" cy="167.1" r="5" fill="#f58518"/><circle cx="691.25" cy="434" r="5" fill="#4c78a8"/><circle cx="693.25" cy="434" r="5" fill="#4c78a8"/><circle cx="694.4" cy="202.5" r="5" fill="#f58518"/><circle cx="695.4" cy="174" r="5" fill="#4c78a8"/><circle cx="695.8" cy="192.5" r="5" fill="#4c78a8"/><circle cx="697.5" cy="232.9" r="5" fill="#4c78a8"/><circle cx="699.2" cy="193.3" r="5" fill="#f58518"/><circle cx="699.2" cy="200.8" r="5" fill="#4c78a8"/><circle cx="700.4" cy="210.8" r="5" fill="#4c78a8"/><circle cx="701.25" cy="240.75" r="5" fill="#4c78a8"/><circle cx="702.1" cy="221.7" r="5" fill="#4c78a8"/><circle cx="703.25" cy="248" r="5" fill="#4c78a8"/><circle cx="705" cy="194.2" r="5" fill="#4c78a8"/><circle cx="705" cy="214.2" r="5" fill="#4c78a8"/><circle cx="705.8" cy="215" r="5" fill="#f58518"/><circle cx="706.7" cy="195.8" r="5" fill="#f58518"/><circle cx="706.7" cy="204.2" r="5" fill="#f58518"/><circle cx="707.5" cy="215.8" r="5" fill="#f58518"/><circle cx="709.2" cy="200" r="5" fill="#4c78a8"/><circle cx="709.2" cy="203.3" r="5" fill="#4c78a8"/><circle cx="710" cy="223.3" r="5" fill="#4c78a8"/><circle cx="710.8" cy="215" r="5" fill="#4c78a8"/><circle cx="710.8" cy="204.2" r="5" fill="#f58518"/><circle cx="711.7" cy="204.2" r="5" fill="#4c78a8"/><circle cx="713.3" cy="205" r="5" fill="#f58518"/><circle cx="715.8" cy="220" r="5" fill="#4c78a8"/><circle cx="716.7" cy="215.8" r="5" fill="#f58518"/><circle cx="717.1" cy="193.75" r="5" fill="#f58518"/><circle cx="717.5" cy="217.5" r="5" fill="#f58518"/><circle cx="718.3" cy="215" r="5" fill="#f58518"/><circle cx="720" cy="190" r="5" fill="#f58518"/><circle cx="720.25" cy="187.5" r="5" fill="#f58518"/><circle cx="721" cy="240.5" r="5" fill="#4c78a8"/><circle cx="721.7" cy="191.7" r="5" fill="#f58518"/><circle cx="723" cy="434" r="5" fill="#4c78a8"/><circle cx="723.3" cy="225" r="5" fill="#4c78a8"/><circle cx="725" cy="192.1" r="5" fill="#f58518"/><circle cx="726.25" cy="202.8" r="5" fill="#f58518"/><circle cx="727.5" cy="208.3" r="5" fill="#f58518"/><circle cx="727.5" cy="215.8" r="5" fill="#f58518"/><circle cx="728.3" cy="206.7" r="5" fill="#f58518"/><circle cx="728.3" cy="225.8" r="5" fill="#4c78a8"/><circle cx="729.2" cy="224.2" r="5" fill="#f58518"/><circle cx="730.4" cy="227.9" r="5" fill="#4c78a8"/><circle cx="730.8" cy="220" r="5" fill="#f58518"/><circle cx="732.5" cy="194" r="5" fill="#f58518"/><circle cx="733.3" cy="207.5" r="5" fill="#f58518"/><circle cx="734.25" cy="434" r="5" fill="#4c78a8"/><circle cx="735" cy="215.8" r="5" fill="#4c78a8"/><circle cx="737.1" cy="183.75" r="5" fill="#f58518"/><circle cx="738.3" cy="200.8" r="5" fill="#f58518"/><circle cx="738.75" cy="200.8" r="5" fill="#f58518"/><circle cx="739.2" cy="218.3" r="5" fill="#4c78a8"/><circle cx="740" cy="202.3" r="5" fill="#4c78a8"/><circle cx="741" cy="189.8" r="5" fill="#4c78a8"/><circle cx="741.7" cy="216.7" r="5" fill="#4c78a8"/><circle cx="743.3" cy="214.2" r="5" fill="#f58518"/><circle cx="744.25" cy="434" r="5" fill="#4c78a8"/><circle cx="745.4" cy="195.8" r="5" fill="#f58518"/><circle cx="745.8" cy="215.8" r="5" fill="#f58518"/><circle cx="746.7" cy="221.7" r="5" fill="#f58518"/><circle cx="747.9" cy="236.7" r="5" fill="#4c78a8"/><circle cx="750" cy="206.7" r="5" fill="#f58518"/><circle cx="751" cy="169.4" r="5" fill="#f58518"/><circle cx="751.7" cy="217.5" r="5" fill="#f58518"/><circle cx="753" cy="434" r="5" fill="#4c78a8"/><circle cx="753.3" cy="205.8" r="5" fill="#f58518"/><circle cx="754.2" cy="202.8" r="5" fill="#f58518"/><circle cx="755" cy="214.2" r="5" fill="#4c78a8"/><circle cx="755" cy="213.3" r="5" fill="#f58518"/><circle cx="757.5" cy="222.5" r="5" fill="#f58518"/><circle cx="758.3" cy="215" r="5" fill="#4c78a8"/><circle cx="759.2" cy="234.2" r="5" fill="#4c78a8"/><circle cx="760" cy="233.3" r="5" fill="#4c78a8"/><circle cx="761.1" cy="175.25" r="5" fill="#4c78a8"/><circle cx="761.9" cy="180.8" r="5" fill="#f58518"/><circle cx="763.3" cy="209.6" r="5" fill="#f58518"/><circle cx="763.75" cy="248.75" r="5" fill="#4c78a8"/><circle cx="765" cy="434" r="5" fill="#4c78a8"/><circle cx="765.8" cy="229.2" r="5" fill="#4c78a8"/></g>
</svg></body></html>
